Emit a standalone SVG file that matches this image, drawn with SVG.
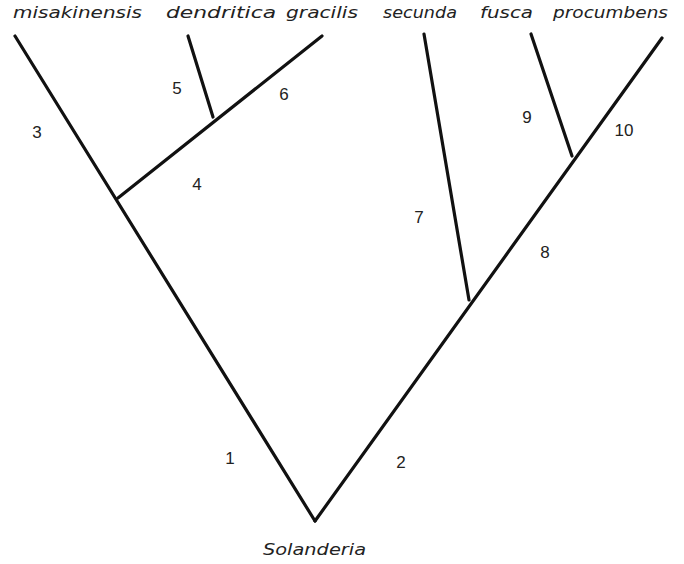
<svg xmlns="http://www.w3.org/2000/svg" width="684" height="564" viewBox="0 0 684 564">
<style>
.e{stroke:#111;stroke-width:3.2;fill:none;stroke-linecap:round}
.t{font-family:"DejaVu Sans","Liberation Sans",sans-serif;font-style:italic;font-size:16px;fill:#222}
.n{font-family:"Liberation Sans",Arial,sans-serif;font-size:17px;fill:#222;text-anchor:middle}
</style>
<rect width="684" height="564" fill="#fff"/>
<g id="edges">
<line class="e" x1="315" y1="521" x2="15" y2="36"/>
<line class="e" x1="315" y1="521" x2="662" y2="38"/>
<line class="e" x1="118" y1="198" x2="322" y2="36"/>
<line class="e" x1="188" y1="36" x2="213" y2="117"/>
<line class="e" x1="424" y1="34" x2="469" y2="300"/>
<line class="e" x1="531" y1="34" x2="572" y2="156"/>
</g>
<g id="labels-taxa">
<text class="t" x="13" y="18" textLength="129" lengthAdjust="spacingAndGlyphs">misakinensis</text>
<text class="t" x="166" y="18" textLength="110" lengthAdjust="spacingAndGlyphs">dendritica</text>
<text class="t" x="286" y="18" textLength="72" lengthAdjust="spacingAndGlyphs">gracilis</text>
<text class="t" x="383" y="18" textLength="74" lengthAdjust="spacingAndGlyphs">secunda</text>
<text class="t" x="480" y="18" textLength="53" lengthAdjust="spacingAndGlyphs">fusca</text>
<text class="t" x="553" y="18" textLength="115" lengthAdjust="spacingAndGlyphs">procumbens</text>
<text class="t" x="263" y="555" textLength="103" lengthAdjust="spacingAndGlyphs">Solanderia</text>
</g>
<g id="labels-num">
<text class="n" x="37" y="138">3</text>
<text class="n" x="177" y="94">5</text>
<text class="n" x="284" y="100">6</text>
<text class="n" x="197" y="190">4</text>
<text class="n" x="230" y="464">1</text>
<text class="n" x="401" y="468">2</text>
<text class="n" x="419" y="223">7</text>
<text class="n" x="545" y="258">8</text>
<text class="n" x="527" y="123">9</text>
<text class="n" x="624" y="136">10</text>
</g>
</svg>
